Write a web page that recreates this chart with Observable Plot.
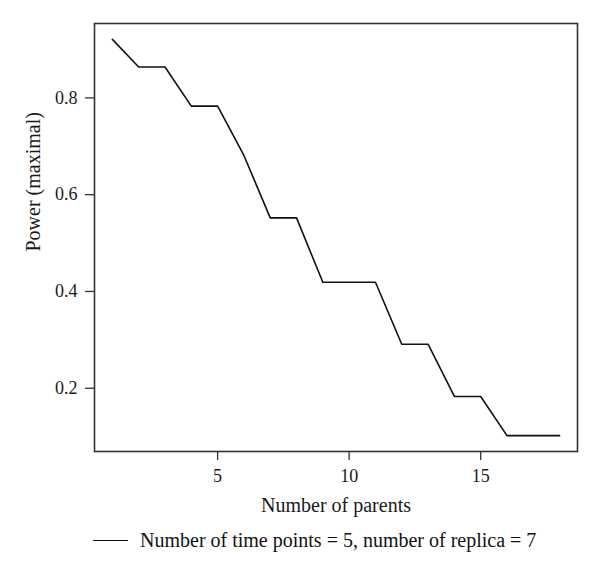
<!DOCTYPE html>
<html>
<head>
<meta charset="utf-8">
<script src="https://cdn.jsdelivr.net/npm/d3@7"></script>
<script src="https://cdn.jsdelivr.net/npm/@observablehq/plot@0.6"></script>
<style>
  html, body { margin: 0; padding: 0; background: #fff; }
  #chart { width: 600px; }
  .legend { position: relative; height: 55px; width: 600px; font-family: "Liberation Serif", serif; }
  .legend .swatch { position: absolute; left: 93px; top: 20px; width: 35px; border-top: 1.5px solid #111; }
  .legend .label { position: absolute; left: 140px; top: 10px; font-size: 20px; line-height: 20px; color: #111; white-space: nowrap; }
</style>
</head>
<body>
<div id="chart"></div>
<script>
const parents = [1, 2, 3, 4, 5, 6, 7, 8, 9, 10, 11, 12, 13, 14, 15, 16, 17, 18];
const power = [0.921, 0.864, 0.864, 0.783, 0.783, 0.681, 0.552, 0.552, 0.419, 0.419, 0.419, 0.291, 0.291, 0.183, 0.183, 0.102, 0.102, 0.102];
const xTicks = [5, 10, 15];
const yTicks = [0.2, 0.4, 0.6, 0.8];
const xLabel = "Number of parents";
const yLabel = "Power (maximal)";
const seriesLabel = "Number of time points = 5, number of replica = 7";

const data = parents.map((p, i) => ({parents: p, power: power[i]}));

const pad = (lo, hi) => { const d = (hi - lo) * 0.04; return [lo - d, hi + d]; };

const chart = Plot.plot({
  width: 600,
  height: 520,
  marginLeft: 94,
  marginRight: 23,
  marginTop: 23,
  marginBottom: 69,
  style: { fontFamily: "'Liberation Serif', serif", color: "#1a1a1a", background: "#fff" },
  x: { domain: pad(d3.min(parents), d3.max(parents)), ticks: xTicks },
  y: { domain: pad(d3.min(power), d3.max(power)), ticks: yTicks },
  marks: [
    Plot.frame({ stroke: "#333", strokeWidth: 1.6 }),
    Plot.axisX({ ticks: xTicks, tickSize: 9, tickPadding: 9, fontSize: 18, label: null, stroke: "#333", strokeWidth: 1.3 }),
    Plot.axisY({ ticks: yTicks, tickSize: 9, tickPadding: 8, fontSize: 18, label: null, tickFormat: d3.format(".1f"), stroke: "#333", strokeWidth: 1.3 }),
    Plot.text([xLabel], { text: d => d, frameAnchor: "bottom", dy: 60, lineAnchor: "bottom", fontSize: 20, fill: "#1a1a1a" }),
    Plot.text([yLabel], { text: d => d, frameAnchor: "left", dx: -55, dy: 14, rotate: -90, lineAnchor: "bottom", fontSize: 20, fill: "#1a1a1a" }),
    Plot.line(data, { x: "parents", y: "power", stroke: "#111", strokeWidth: 1.6 })
  ]
});
document.getElementById("chart").appendChild(chart);

const legend = document.createElement("div");
legend.className = "legend";
legend.innerHTML = '<span class="swatch"></span><span class="label"></span>';
legend.querySelector(".label").textContent = seriesLabel;
document.body.appendChild(legend);
</script>
</body>
</html>
